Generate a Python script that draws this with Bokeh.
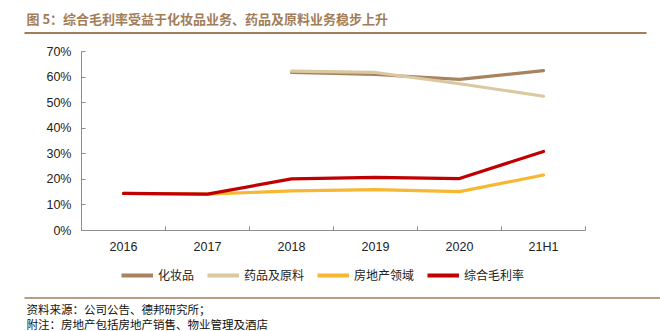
from bokeh.plotting import figure
from bokeh.layouts import column
from bokeh.models import (FixedTicker, NumeralTickFormatter, Legend, LegendItem,
                          ColumnDataSource, Range1d)
from bokeh.core.properties import value
from bokeh.embed import file_html
from bokeh.resources import INLINE

categories = ["2016", "2017", "2018", "2019", "2020", "21H1"]
cosmetics = [None, None, 0.618, 0.610, 0.591, 0.625]
pharma = [None, None, 0.623, 0.618, 0.574, 0.525]
real_estate = [0.145, 0.142, 0.155, 0.160, 0.152, 0.217]
composite = [0.145, 0.142, 0.202, 0.208, 0.203, 0.309]
series_names = ["化妆品", "药品及原料", "房地产领域", "综合毛利率"]
colors = ["#A8835F", "#D9C8A0", "#F7B733", "#C00000"]
y_ticks = [0, 0.1, 0.2, 0.3, 0.4, 0.5, 0.6, 0.7]
title_text = "图 5：综合毛利率受益于化妆品业务、药品及原料业务稳步上升"
notes = ["资料来源：公司公告、德邦研究所；", "附注：房地产包括房地产销售、物业管理及酒店"]

W, H = 660, 331
TOP_H = 40          # header strip
MAIN_BOTTOM = 262   # bottom of chart strip
L, R, T, B = 81, 585, 51, 230
brown = "#A27D57"
cjk = "Noto Sans CJK SC"


def blank(height, y0, y1):
    f = figure(width=W, height=height, output_backend="svg", toolbar_location=None,
               x_range=Range1d(0, W), y_range=Range1d(y1, y0),
               x_axis_type=None, y_axis_type=None, min_border=0,
               min_border_left=0, min_border_right=0, min_border_top=0,
               min_border_bottom=0, frame_align=False)
    f.outline_line_color = None
    f.xgrid.visible = False
    f.ygrid.visible = False
    f.background_fill_color = "white"
    f.border_fill_color = "white"
    return f


# ---- header
head = blank(TOP_H, 0, TOP_H)
head.text(x=[26], y=[17.5], text=[title_text], text_font=value(cjk),
          text_font_style="bold", text_font_size="13px", text_color=brown,
          text_baseline="middle", text_align="left")
head.line(x=[24, 646], y=[32.5, 32.5], line_color=brown, line_width=2)

# ---- main chart
xs = list(range(len(categories)))
p = figure(width=W, height=MAIN_BOTTOM - TOP_H, output_backend="svg", toolbar_location=None,
           x_range=Range1d(-0.5, len(categories) - 0.5), y_range=Range1d(0, 0.7),
           min_border_left=L, min_border_right=W - R, min_border_top=T - TOP_H,
           min_border_bottom=MAIN_BOTTOM - B, frame_align=False)
p.outline_line_color = None
p.xgrid.visible = False
p.ygrid.visible = False
p.background_fill_color = "white"
p.border_fill_color = "white"

axis_color = "#8C8C8C"
p.xaxis.ticker = FixedTicker(ticks=xs, minor_ticks=[i - 0.5 for i in range(len(categories) + 1)])
p.xaxis.major_label_overrides = {i: c for i, c in enumerate(categories)}
p.xaxis.major_tick_in = 0
p.xaxis.major_tick_out = 0
p.xaxis.minor_tick_in = 4
p.xaxis.minor_tick_out = 0
p.xaxis.minor_tick_line_color = axis_color
p.xaxis.axis_line_color = axis_color
p.xaxis.major_label_standoff = 9

p.yaxis.ticker = FixedTicker(ticks=y_ticks)
p.yaxis.formatter = NumeralTickFormatter(format="0%")
p.yaxis.major_tick_in = 4
p.yaxis.major_tick_out = 0
p.yaxis.minor_tick_line_color = None
p.yaxis.major_tick_line_color = axis_color
p.yaxis.axis_line_color = axis_color
p.yaxis.major_label_standoff = 10

for ax in (p.xaxis, p.yaxis):
    ax.major_label_text_font = "Liberation Sans"
    ax.major_label_text_font_size = "12.5px"
    ax.major_label_text_color = "#222222"

for name, vals, col in zip(series_names, [cosmetics, pharma, real_estate, composite], colors):
    xx = [x for x, v in zip(xs, vals) if v is not None]
    yy = [v for v in vals if v is not None]
    src = ColumnDataSource(dict(x=xx, y=yy))
    p.line("x", "y", source=src, line_color=col, line_width=3.2, line_cap="round",
           line_join="round")

# ---- footer: legend + notes
foot = blank(H - MAIN_BOTTOM, MAIN_BOTTOM, H)
legend_renderers = []
for name, col in zip(series_names, colors):
    # legend-only proxy (a single undefined point draws nothing in the plot)
    r = foot.line(x=[float("nan")], y=[float("nan")], line_color=col, line_width=4)
    legend_renderers.append(r)
legend = Legend(items=[LegendItem(label=n, renderers=[r]) for n, r in zip(series_names, legend_renderers)],
                orientation="horizontal", location=(121, 331 - 275 - 8), padding=0, margin=0,
                spacing=13, glyph_width=32, glyph_height=16, label_standoff=5,
                label_height=16, label_text_font=cjk, label_text_font_size="12px",
                label_text_color="#222222", border_line_alpha=0,
                background_fill_alpha=0)
foot.add_layout(legend, "center")
foot.line(x=[24, W], y=[297.5, 297.5], line_color=brown, line_width=1.5)
foot.text(x=[26, 26], y=[308, 323.5], text=notes, text_font=value(cjk),
          text_font_size="11.5px", text_color="#111111", text_baseline="middle",
          text_align="left")

layout = column(head, p, foot, spacing=0)
open("out.html", "w").write(file_html(layout, INLINE))
